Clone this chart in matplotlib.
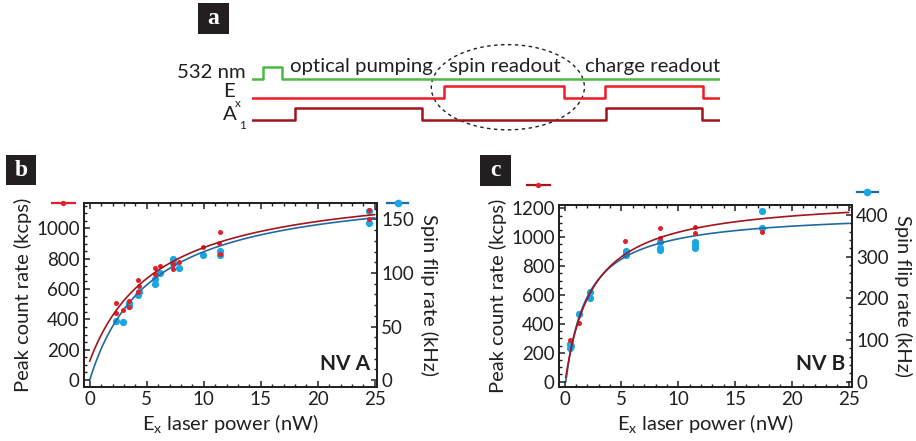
import matplotlib
matplotlib.use('Agg')
import matplotlib.pyplot as plt
import numpy as np
from matplotlib.lines import Line2D
from matplotlib.patches import Ellipse, Rectangle
from matplotlib.ticker import MultipleLocator

plt.rcParams['font.family'] = ['Lato', 'DejaVu Sans']
plt.rcParams['mathtext.default'] = 'regular'

INK = '#231f20'
RED_PT = '#e31e26'
BLUE_PT = '#19a7e4'
RED_FIT = '#a3151d'
BLUE_FIT = '#1f6aa5'

# ---- panel a: pulse sequence (time in arbitrary units 0..100)
t_532 = [0, 2.5, 6.4, 100]
lvl_532 = [0, 1, 0, 0]
t_ex = [0, 41.1, 66.6, 75.5, 96.3, 100]
lvl_ex = [0, 1, 0, 1, 0, 0]
t_a1 = [0, 9.3, 36.4, 75.6, 96.1, 100]
lvl_a1 = [0, 1, 0, 1, 0, 0]
stage_names = ['optical pumping', 'spin readout', 'charge readout']
stage_centers = [23.45, 54.0, 85.6]

# ---- panel b: NV A
b_red_x = [2.34, 2.34, 2.92, 3.45, 3.45, 4.24, 4.32, 4.24, 5.70, 6.14, 5.70,
           7.31, 7.31, 7.81, 9.94, 11.46, 11.30, 11.46, 24.47, 24.47]
b_red_y = [505, 445, 461, 520, 482, 658, 620, 581, 741, 750, 696,
           763, 730, 778, 877, 976, 903, 833, 1118, 1059]
b_blue_x = [2.34, 2.92, 3.45, 3.45, 4.24, 4.32, 5.70, 5.70, 6.14, 7.31, 7.31,
            7.81, 9.94, 11.46, 11.46, 24.47, 24.47]
b_blue_y = [55.6, 54, 68.8, 72, 79.3, 82, 89.5, 94.7, 99.7, 112.7, 109,
            105, 116.4, 116.4, 121, 158, 147]
# saturation fits: bg + amp * P / (P + psat)
b_red_fit = dict(bg=125, amp=1197, psat=6.0, p0=0.0)
b_blue_fit = dict(bg=0, amp=184, psat=5.35, p0=0.0)

# ---- panel c: NV B
c_red_x = [0.50, 1.24, 5.30, 8.41, 8.41, 11.47, 11.47, 17.36]
c_red_y = [289, 404, 974, 1066, 997, 1073, 1027, 1034]
c_blue_x = [0.50, 0.50, 0.55, 1.24, 2.27, 2.27, 5.36, 5.36, 5.36,
            8.41, 8.41, 8.41, 11.47, 11.47, 11.47, 17.36, 17.36]
c_blue_y = [90.5, 80, 85, 162, 216, 200, 314, 304, 309,
            336, 316, 320, 336, 328, 320, 410, 368]
c_red_fit = dict(bg=30, amp=1255, psat=2.468, p0=0.1)
c_blue_fit = dict(bg=0, amp=409, psat=1.91, p0=0.1)

TICK_FS = 13.5
LABEL_FS = 14.5


def sat_curve(fit, pmax=25.0):
    p = np.linspace(fit['p0'], pmax, 300)
    q = p - fit['p0']
    return p, fit['bg'] + fit['amp'] * q / (q + fit['psat'])


fig = plt.figure(figsize=(9.16, 4.41), dpi=100)
W, H = 916.0, 441.0


def fig_box(x0, y0, x1, y1):
    return [x0 / W, 1 - y1 / H, (x1 - x0) / W, (y1 - y0) / H]


def panel_letter(letter, x0, y0, x1, y1):
    fig.add_artist(Rectangle((x0 / W, 1 - y1 / H), (x1 - x0) / W, (y1 - y0) / H,
                             transform=fig.transFigure, fc=INK, ec='none'))
    fig.text((x0 + x1) / 2 / W, 1 - (y0 + y1) / 2 / H, letter, color='white',
             ha='center', va='center', fontsize=17, fontweight='bold',
             family='Liberation Serif')


def legend_key(x0, x1, xm, y, line_color, dot_color, ms):
    fig.add_artist(Line2D([x0 / W, x1 / W], [1 - y / H, 1 - y / H], transform=fig.transFigure,
                          color=line_color, lw=1.6))
    fig.add_artist(Line2D([xm / W], [1 - y / H], transform=fig.transFigure, marker='o',
                          ms=ms, mfc=dot_color, mec='none', ls='none'))


# ---------------- panel a
panel_letter('a', 198, 3, 229, 34)
ax_a = fig.add_axes(fig_box(251.7, 40, 720, 135))
ax_a.set_xlim(0, 100)
ax_a.set_ylim(0, 95 / 12.0)
ax_a.axis('off')
base_532, base_ex, base_a1 = 4.69, 3.06, 1.25
ax_a.plot(t_532, np.array(lvl_532) + base_532, drawstyle='steps-post', color='#4db848', lw=1.8)
ax_a.plot(t_ex, np.array(lvl_ex) + base_ex, drawstyle='steps-post', color='#ed1c24', lw=1.8)
ax_a.plot(t_a1, np.array(lvl_a1) + base_a1, drawstyle='steps-post', color='#a0141b', lw=1.8)
for name, c in zip(stage_names, stage_centers):
    ax_a.text(c, 5.72, name, ha='center', va='center', fontsize=14.7, color=INK)
ax_a.text(-1.2, 5.22, '532 nm', ha='right', va='center', fontsize=14.7, color=INK, clip_on=False)
ax_a.text(-3.6, 3.62, 'E', ha='right', va='center', fontsize=14.7, color=INK, clip_on=False)
ax_a.text(-3.5, 2.66, 'x', ha='left', va='center', fontsize=8.5, color=INK, clip_on=False)
ax_a.text(-3.3, 1.67, 'A', ha='right', va='center', fontsize=14.7, color=INK, clip_on=False)
ax_a.text(-2.6, 0.81, '1', ha='left', va='center', fontsize=8.5, color=INK, clip_on=False)
ax_a.add_patch(Ellipse((54.7, 3.98), 32.7, 7.1, fill=False, ec=INK, lw=1.0,
                       ls=(0, (2.5, 2.5)), clip_on=False))


def setup_panel(rect, xlim, ylim, ylim2, ymaj, ymin, y2maj, y2min, tag):
    ax = fig.add_axes(rect)
    ax2 = ax.twinx()
    ax.set_zorder(ax2.get_zorder() + 1)
    ax.patch.set_visible(False)
    ax.set_xlim(*xlim)
    ax.set_ylim(*ylim)
    ax2.set_ylim(*ylim2)
    ax.xaxis.set_major_locator(MultipleLocator(5))
    ax.xaxis.set_minor_locator(MultipleLocator(1))
    ax.yaxis.set_major_locator(MultipleLocator(ymaj))
    ax.yaxis.set_minor_locator(MultipleLocator(ymin))
    ax2.yaxis.set_major_locator(MultipleLocator(y2maj))
    ax2.yaxis.set_minor_locator(MultipleLocator(y2min))
    for a in (ax, ax2):
        for s in a.spines.values():
            s.set_color(INK)
            s.set_linewidth(1.3)
    ax.tick_params(axis='x', which='both', direction='in', top=True, bottom=True,
                   color=INK, labelcolor=INK, labelsize=TICK_FS, pad=3)
    ax.tick_params(axis='y', which='both', direction='in', right=False,
                   color=INK, labelcolor=INK, labelsize=TICK_FS, pad=3)
    ax2.tick_params(axis='y', which='both', direction='in', color=INK,
                    labelcolor=INK, labelsize=TICK_FS, pad=3)
    ax.tick_params(which='major', length=4, width=1.1)
    ax.tick_params(which='minor', length=2.5, width=1.0)
    ax2.tick_params(which='major', length=4, width=1.1)
    ax2.tick_params(which='minor', length=2.5, width=1.0)
    ax.set_xlabel(r'$E_x$ laser power (nW)', fontsize=LABEL_FS, color=INK, labelpad=3)
    ax.set_ylabel('Peak count rate (kcps)', fontsize=LABEL_FS, color=INK, labelpad=3)
    ax2.set_ylabel('Spin flip rate (kHz)', fontsize=LABEL_FS, color=INK, rotation=270,
                   va='bottom', labelpad=4)
    ax.text(0.976, 0.07, tag, transform=ax.transAxes, ha='right', va='bottom',
            fontsize=15, fontweight='bold', color=INK)
    return ax, ax2


# ---------------- panel b
panel_letter('b', 6, 155, 36, 185)
ax_b, ax_b2 = setup_panel(fig_box(84, 203, 377, 387), (-0.5, 25.2), (-46, 1167),
                          (-6.5, 165.4), 200, 50, 50, 10, 'NV A')
ax_b2.plot(b_blue_x, b_blue_y, 'o', ms=5.2, color=BLUE_PT, mec='none')
ax_b2.plot(*sat_curve(b_blue_fit), color=BLUE_FIT, lw=1.2)
ax_b.plot(b_red_x, b_red_y, 'o', ms=3.6, color=RED_PT, mec='none')
ax_b.plot(*sat_curve(b_red_fit), color=RED_FIT, lw=1.2)
legend_key(52, 75, 63, 203, RED_PT, RED_PT, 3.8)
legend_key(387, 408, 398, 203, BLUE_FIT, BLUE_PT, 5.5)

# ---------------- panel c
panel_letter('c', 480, 155, 511, 186)
ax_c, ax_c2 = setup_panel(fig_box(559, 205, 852, 387), (-0.5, 25.3), (-37, 1223),
                          (-12.7, 424), 200, 50, 100, 20, 'NV B')
ax_c2.plot(c_blue_x, c_blue_y, 'o', ms=5.2, color=BLUE_PT, mec='none')
ax_c2.plot(*sat_curve(c_blue_fit), color=BLUE_FIT, lw=1.2)
ax_c.plot(c_red_x, c_red_y, 'o', ms=3.6, color=RED_PT, mec='none')
ax_c.plot(*sat_curve(c_red_fit), color=RED_FIT, lw=1.2)
legend_key(527, 550, 538, 185, RED_FIT, RED_PT, 3.8)
legend_key(857, 878, 867, 192, BLUE_FIT, BLUE_PT, 5.5)

fig.savefig('out.png', dpi=100)
